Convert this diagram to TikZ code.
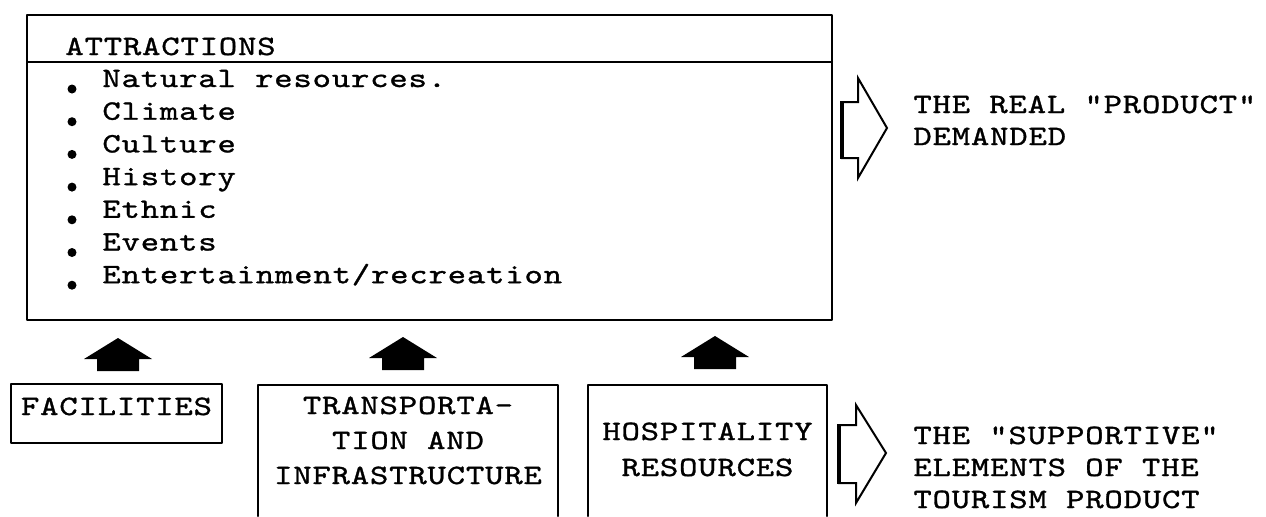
\documentclass[tikz,border=0pt]{standalone}
\usepackage{fontspec}
\newfontfamily\tw{lmmono10-regular.otf}[FakeStretch=1.25,LetterSpace=2.9,FakeBold=1.1]
\begin{document}
\begin{tikzpicture}[x=0.5pt,y=-0.5pt,
  frame/.style={line width=1pt, line cap=round, line join=round},
  twfont/.style={font=\tw\fontsize{14pt}{16pt}\selectfont},
  txt/.style={twfont, anchor=base west, inner sep=0pt},
  ctxt/.style={twfont, anchor=base, inner sep=0pt},
  blockup/.style={fill=black},
  hollow/.style={draw, line width=1pt, fill=white, line join=miter}]
\useasboundingbox (0,0) rectangle (1266,516);

% main attractions box
\draw[frame] (27,15) rectangle (832,320);
\draw[frame] (27,62) -- (832,62);
\node[txt] (head) at (65,55) {ATTRACTIONS};
\foreach \i/\t in {0/{Natural resources.},1/{Climate},2/{Culture},3/{History},4/{Ethnic},5/{Events},6/{Entertainment/recreation}}{
  \pgfmathsetmacro{\yy}{87+32.7*\i}
  \fill (72,\yy+2) circle[radius=4.5];
  \node[txt] (item\i) at (102,\yy) {\t};
}

% hollow arrow top
\draw[hollow] (842,102) -- (858,102) -- (858,78) -- (887,128) -- (858,178) -- (858,158) -- (842,158) -- cycle;
\draw[line width=2pt] (842,101) -- (842,159);
\node[txt] (real1) at (913,113) {THE REAL "PRODUCT"};
\node[txt] (real2) at (913,145) {DEMANDED};

% up arrows
\foreach \cx/\cy in {118/338,403/337,715/336}{
  \fill[blockup] (\cx,\cy) -- (\cx+34,\cy+21) -- (\cx+21,\cy+21) -- (\cx+21,\cy+33)
    -- (\cx-21,\cy+33) -- (\cx-21,\cy+21) -- (\cx-34,\cy+21) -- cycle;
}

% bottom boxes
\draw[frame] (11,384) rectangle (222,443);
\node[ctxt] (fac) at (116.5,415) {FACILITIES};
\draw[frame] (258,516) -- (258,385) -- (558,385) -- (558,516);
\node[ctxt] (tr1) at (408,414) {TRANSPORTA-};
\node[ctxt] (tr2) at (408,449) {TION AND};
\node[ctxt] (tr3) at (408,484) {INFRASTRUCTURE};
\draw[frame] (588,516) -- (588,385) -- (827,385) -- (827,516);
\node[ctxt] (hos1) at (707.5,440) {HOSPITALITY};
\node[ctxt] (hos2) at (707.5,476) {RESOURCES};

% hollow arrow bottom
\draw[hollow] (839,425) -- (856,425) -- (856,405) -- (886,453) -- (856,503) -- (856,483) -- (839,483) -- cycle;
\draw[line width=2pt] (839,424) -- (839,484);
\node[txt] (sup1) at (913,444) {THE "SUPPORTIVE"};
\node[txt] (sup2) at (913,476) {ELEMENTS OF THE};
\node[txt] (sup3) at (913,508) {TOURISM PRODUCT};
\end{tikzpicture}
\end{document}
